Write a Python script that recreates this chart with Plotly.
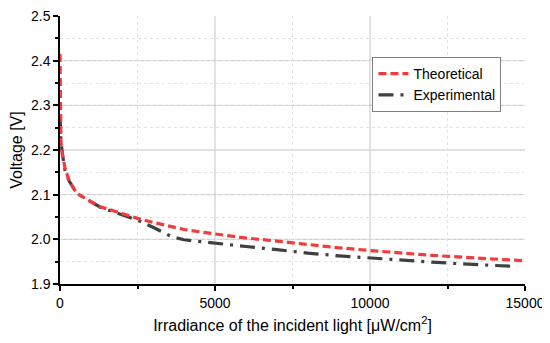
import plotly.graph_objects as go

theo_x = [0, 10, 30, 80, 160, 300, 540, 900, 1300, 2000, 2500, 3000, 4000, 5000,
          6000, 7000, 8000, 9000, 10000, 11000, 12000, 13000, 14000, 14950]
theo_y = [2.415, 2.31, 2.22, 2.19, 2.16, 2.13, 2.103, 2.088, 2.073, 2.058, 2.047,
          2.038, 2.022, 2.012, 2.003, 1.996, 1.988, 1.981, 1.975, 1.969, 1.964,
          1.960, 1.956, 1.952]

exp_x = [0, 30, 80, 160, 300, 540, 900, 1300, 2000, 2500, 3000, 3600, 4000, 5000,
         6000, 7000, 8000, 9000, 10000, 11000, 12000, 13000, 14000, 14750]
exp_y = [2.28, 2.22, 2.19, 2.155, 2.13, 2.103, 2.088, 2.072, 2.055, 2.043, 2.027,
         2.006, 1.999, 1.991, 1.984, 1.977, 1.969, 1.963, 1.958, 1.953, 1.949,
         1.945, 1.942, 1.939]

x_ticks = [0, 5000, 10000, 15000]
y_ticks = [1.9, 2.0, 2.1, 2.2, 2.3, 2.4, 2.5]
x_grid = [5000, 10000]
y_grid = [2.0, 2.1, 2.2, 2.3, 2.4]

fig = go.Figure()
fig.add_trace(go.Scatter(x=exp_x, y=exp_y, mode="lines", name="Experimental", legendrank=2,
                         line=dict(color="#404040", width=3.2, dash="15px,7px,3px,7px")))
fig.add_trace(go.Scatter(x=theo_x, y=theo_y, mode="lines", name="Theoretical", legendrank=1,
                         line=dict(color="#f03c3f", width=3.2, dash="8px,4px")))

for gx in x_grid:
    fig.add_shape(type="line", xref="x", yref="paper", x0=gx, x1=gx, y0=0, y1=1,
                  line=dict(color="#c4c4c4", width=1), layer="below")
for gy in y_grid:
    fig.add_shape(type="line", xref="paper", yref="y", x0=0, x1=1, y0=gy, y1=gy,
                  line=dict(color="#c4c4c4", width=1), layer="below")

font = "Liberation Sans, Arial, sans-serif"
axis_common = dict(
    showline=True, linecolor="black", linewidth=1.5,
    ticks="outside", ticklen=5, tickcolor="black", tickwidth=1.5,
    showgrid=False,
    zeroline=False, automargin=False, ticklabeloverflow="allow",
    tickfont=dict(family=font, size=14, color="black"),
    minor=dict(ticks="outside", ticklen=3, tickcolor="black", showgrid=True,
               gridcolor="#e2e2e2", griddash="dot", gridwidth=1),
)

# page body has an 8px default margin, so the figure is sized to fit inside it
fig.update_layout(
    width=542, height=335,
    margin=dict(l=52, r=25, t=8, b=59),
    paper_bgcolor="white", plot_bgcolor="white",
    font=dict(family=font, color="black"),
    showlegend=True,
    legend=dict(x=0.672, y=0.847, xanchor="left", yanchor="top",
                bordercolor="#808080", borderwidth=1, bgcolor="white",
                font=dict(family=font, size=14, color="black"),
                tracegroupgap=0, itemwidth=30),
    xaxis=dict(range=[0, 15000], tickvals=x_ticks, ticktext=[str(v) for v in x_ticks],
               title=dict(text="Irradiance of the incident light [μW/cm<sup>2</sup>]",
                          font=dict(family=font, size=16), standoff=10),
               **axis_common),
    yaxis=dict(range=[1.9, 2.5], tickvals=y_ticks, ticktext=[f"{v:.1f}" for v in y_ticks],
               title=dict(text="Voltage [V]", font=dict(family=font, size=16), standoff=8),
               **axis_common),
)
fig.update_xaxes(minor=dict(dtick=2500, tick0=0))
fig.update_yaxes(minor=dict(dtick=0.05, tick0=1.9))

fig.write_html("out.html")
